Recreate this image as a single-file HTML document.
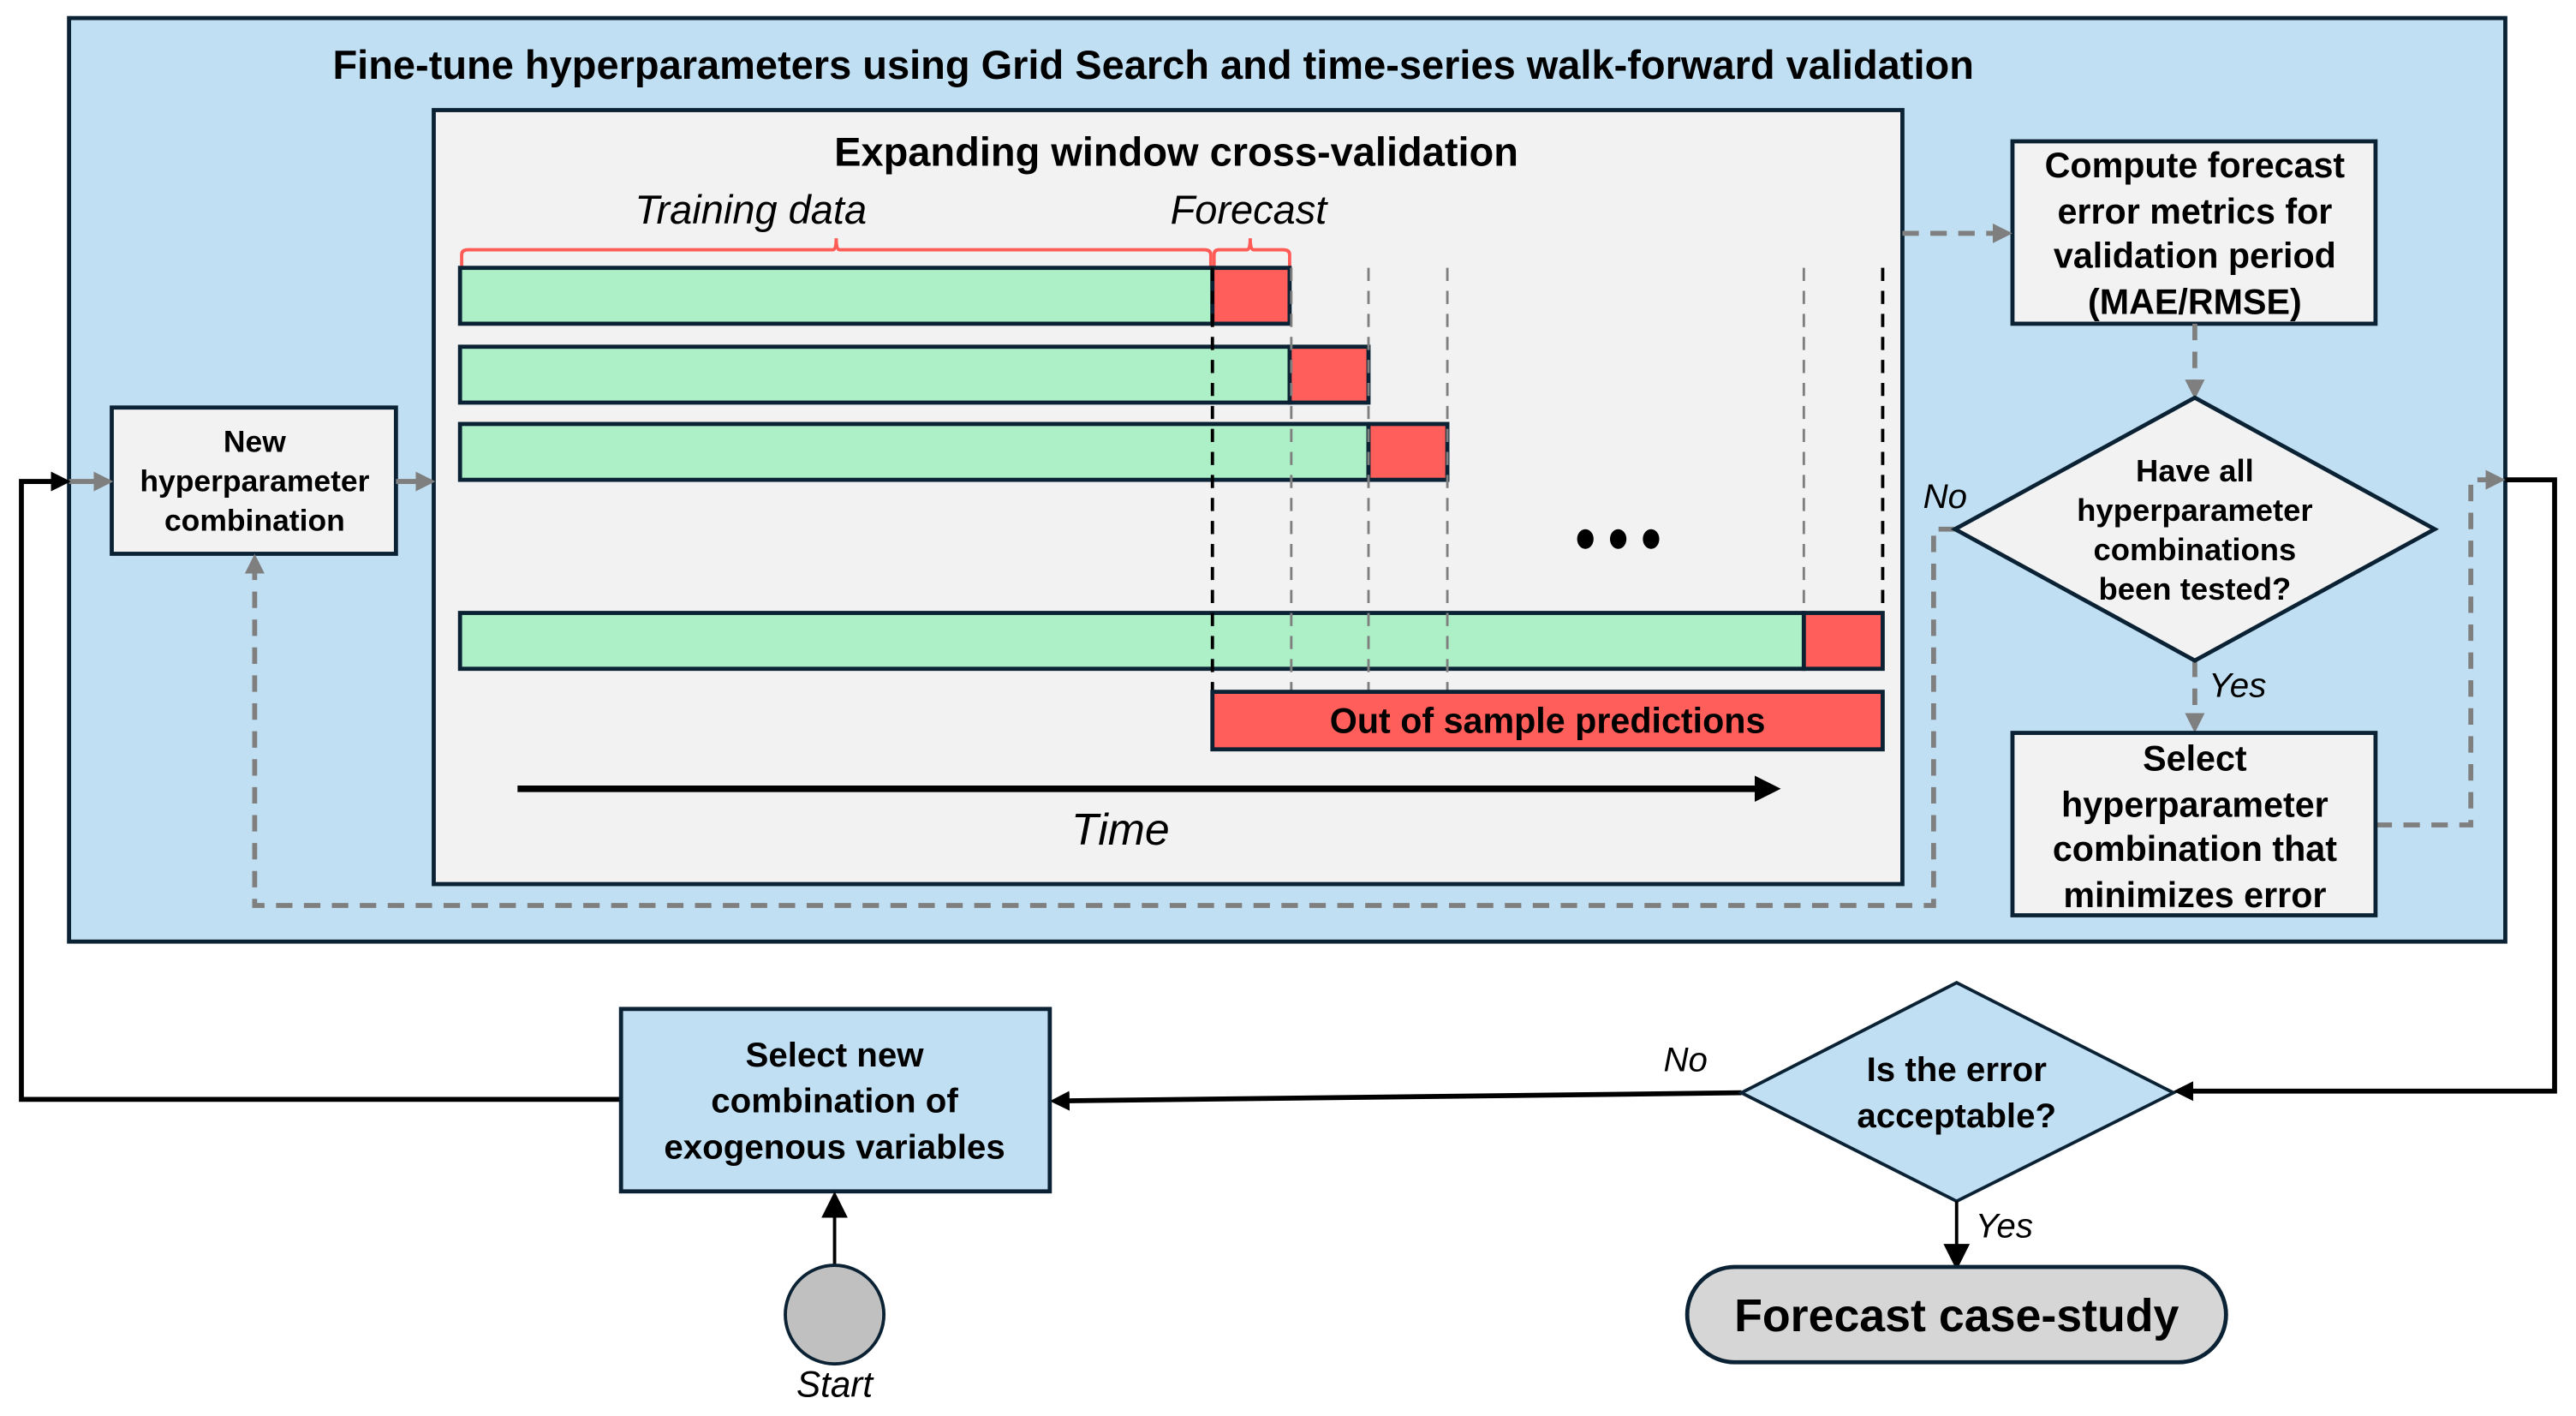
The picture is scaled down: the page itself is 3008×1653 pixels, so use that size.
<!DOCTYPE html>
<html><head><meta charset="utf-8"><style>
html,body{margin:0;padding:0;background:#fff;}
svg{display:block;}
text{font-family:"Liberation Sans",sans-serif;}
.b{font-weight:bold;fill:#000;}
.i{font-style:italic;fill:#000;}
</style></head><body>
<svg width="3008" height="1653" viewBox="0 0 1568 861.7" xmlns="http://www.w3.org/2000/svg">
<defs>
<marker id="ag" markerWidth="4" markerHeight="4" refX="3" refY="2" orient="auto" markerUnits="strokeWidth"><path d="M0,0 L4,2 L0,4 z" fill="#7f7f7f"/></marker>
<marker id="ak" markerWidth="4" markerHeight="4" refX="3" refY="2" orient="auto" markerUnits="strokeWidth"><path d="M0,0 L4,2 L0,4 z" fill="#000"/></marker>
<marker id="ak2" markerWidth="8" markerHeight="8" refX="6" refY="4" orient="auto" markerUnits="strokeWidth"><path d="M0,0 L8,4 L0,8 z" fill="#000"/></marker>
</defs>
<rect x="42" y="11" width="1483" height="562" fill="#c0dff2" stroke="#0a2233" stroke-width="2.5"/>
<text x="702" y="48" text-anchor="middle" class="b" font-size="24.5">Fine-tune hyperparameters using Grid Search and time-series walk-forward validation</text>
<rect x="264" y="67" width="894" height="471" fill="#f2f2f2" stroke="#0a2233" stroke-width="2.5"/>
<text x="716" y="101" text-anchor="middle" class="b" font-size="24.5">Expanding window cross-validation</text>
<text x="457" y="136" text-anchor="middle" class="i" font-size="24.5">Training data</text>
<text x="760" y="136" text-anchor="middle" class="i" font-size="24.5">Forecast</text>
<path d="M281,163 L281,155 Q281,152 285,152 L507,152 Q509,152 509,145 Q509,152 511,152 L733,152 Q737,152 737,155 L737,163" fill="none" stroke="#ff5b57" stroke-width="2"/>
<path d="M739,163 L739,155 Q739,152 742,152 L759,152 Q761,152 761,145 Q761,152 763,152 L781,152 Q785,152 785,155 L785,163" fill="none" stroke="#ff5b57" stroke-width="2"/>
<g stroke="#0a2233" stroke-width="2.5">
<rect x="280" y="163" width="458" height="34" fill="#adf0c7"/><rect x="738" y="163" width="47" height="34" fill="#ff5e5b"/>
<rect x="280" y="211" width="505" height="34" fill="#adf0c7"/><rect x="785" y="211" width="48" height="34" fill="#ff5e5b"/>
<rect x="280" y="258" width="553" height="34" fill="#adf0c7"/><rect x="833" y="258" width="48" height="34" fill="#ff5e5b"/>
<rect x="280" y="373" width="818" height="34" fill="#adf0c7"/><rect x="1098" y="373" width="48" height="34" fill="#ff5e5b"/>
</g>
<g fill="none" stroke-dasharray="8,6">
<line x1="738" y1="163" x2="738" y2="421" stroke="#000" stroke-width="2"/>
<line x1="786" y1="163" x2="786" y2="421" stroke="#7f7f7f" stroke-width="1.5"/>
<line x1="833" y1="163" x2="833" y2="421" stroke="#7f7f7f" stroke-width="1.5"/>
<line x1="881" y1="163" x2="881" y2="421" stroke="#7f7f7f" stroke-width="1.5"/>
<line x1="1098" y1="163" x2="1098" y2="373" stroke="#7f7f7f" stroke-width="1.5"/>
<line x1="1146" y1="163" x2="1146" y2="373" stroke="#000" stroke-width="2"/>
</g>
<ellipse cx="965" cy="328" rx="5" ry="6"/><ellipse cx="985" cy="328" rx="5" ry="6"/><ellipse cx="1005" cy="328" rx="5" ry="6"/>
<rect x="738" y="421" width="408" height="35" fill="#ff5e5b" stroke="#0a2233" stroke-width="2.5"/>
<text x="942" y="446" text-anchor="middle" class="b" font-size="21.5">Out of sample predictions</text>
<line x1="315" y1="480" x2="1080" y2="480" stroke="#000" stroke-width="4" marker-end="url(#ak)"/>
<text x="682" y="514" text-anchor="middle" class="i" font-size="27">Time</text>
<rect x="68" y="248" width="173" height="89" fill="#f2f2f2" stroke="#0a2233" stroke-width="2.5"/>
<text text-anchor="middle" class="b" font-size="18.5"><tspan x="155" y="275">New</tspan><tspan x="155" y="299">hyperparameter</tspan><tspan x="155" y="323">combination</tspan></text>
<line x1="42" y1="293" x2="66" y2="293" stroke="#7f7f7f" stroke-width="3" marker-end="url(#ag)"/>
<line x1="241" y1="293" x2="262" y2="293" stroke="#7f7f7f" stroke-width="3" marker-end="url(#ag)"/>
<rect x="1225" y="86" width="221" height="111" fill="#f2f2f2" stroke="#0a2233" stroke-width="2.5"/>
<text text-anchor="middle" class="b" font-size="21.5"><tspan x="1336" y="108">Compute forecast</tspan><tspan x="1336" y="136">error metrics for</tspan><tspan x="1336" y="163">validation period</tspan><tspan x="1336" y="191">(MAE/RMSE)</tspan></text>
<g fill="none" stroke="#7f7f7f" stroke-width="3" stroke-dasharray="10,7">
<line x1="1158" y1="142" x2="1222" y2="142" marker-end="url(#ag)"/>
<line x1="1336" y1="197" x2="1336" y2="240" marker-end="url(#ag)"/>
<line x1="1336" y1="402" x2="1336" y2="443" marker-end="url(#ag)"/>
<polyline points="1446,502 1504,502 1504,292 1522,292" marker-end="url(#ag)"/>
<polyline points="1190,322 1177,322 1177,551 155,551 155,340" marker-end="url(#ag)"/>
</g>
<polygon points="1336,242 1482,322 1336,402 1190,322" fill="#f2f2f2" stroke="#0a2233" stroke-width="2.5"/>
<text text-anchor="middle" class="b" font-size="19"><tspan x="1336" y="293">Have all</tspan><tspan x="1336" y="317">hyperparameter</tspan><tspan x="1336" y="341">combinations</tspan><tspan x="1336" y="365">been tested?</tspan></text>
<text x="1184" y="309" text-anchor="middle" class="i" font-size="21">No</text>
<text x="1362" y="424" text-anchor="middle" class="i" font-size="21">Yes</text>
<rect x="1225" y="446" width="221" height="111" fill="#f2f2f2" stroke="#0a2233" stroke-width="2.5"/>
<text text-anchor="middle" class="b" font-size="21.5"><tspan x="1336" y="469">Select</tspan><tspan x="1336" y="497">hyperparameter</tspan><tspan x="1336" y="524">combination that</tspan><tspan x="1336" y="552">minimizes error</tspan></text>
<polyline points="1525,292 1555,292 1555,664 1326,664" fill="none" stroke="#000" stroke-width="3" marker-end="url(#ak)"/>
<polyline points="378,669 13,669 13,293 40,293" fill="none" stroke="#000" stroke-width="3" marker-end="url(#ak)"/>
<line x1="1060" y1="665" x2="642" y2="670" stroke="#000" stroke-width="3" marker-end="url(#ak)"/>
<polygon points="1191,598 1323,665 1191,731 1060,665" fill="#c0dff2" stroke="#0a2233" stroke-width="2"/>
<text text-anchor="middle" class="b" font-size="21"><tspan x="1191" y="658">Is the error</tspan><tspan x="1191" y="686">acceptable?</tspan></text>
<text x="1026" y="652" text-anchor="middle" class="i" font-size="21">No</text>
<rect x="378" y="614" width="261" height="111" fill="#c0dff2" stroke="#0a2233" stroke-width="2.5"/>
<text text-anchor="middle" class="b" font-size="21"><tspan x="508" y="649">Select new</tspan><tspan x="508" y="677">combination of</tspan><tspan x="508" y="705">exogenous variables</tspan></text>
<line x1="508" y1="770" x2="508" y2="729" stroke="#000" stroke-width="2" marker-end="url(#ak2)"/>
<circle cx="508" cy="800" r="30" fill="#c0c0c0" stroke="#0a2233" stroke-width="2"/>
<text x="508" y="850" text-anchor="middle" class="i" font-size="22">Start</text>
<line x1="1191" y1="731" x2="1191" y2="769" stroke="#000" stroke-width="2" marker-end="url(#ak2)"/>
<text x="1220" y="753" text-anchor="middle" class="i" font-size="21">Yes</text>
<rect x="1027" y="771" width="328" height="58" rx="29" fill="#d6d6d6" stroke="#0a2233" stroke-width="2.5"/>
<text x="1191" y="810" text-anchor="middle" class="b" font-size="28">Forecast case-study</text>
</svg>
</body></html>
